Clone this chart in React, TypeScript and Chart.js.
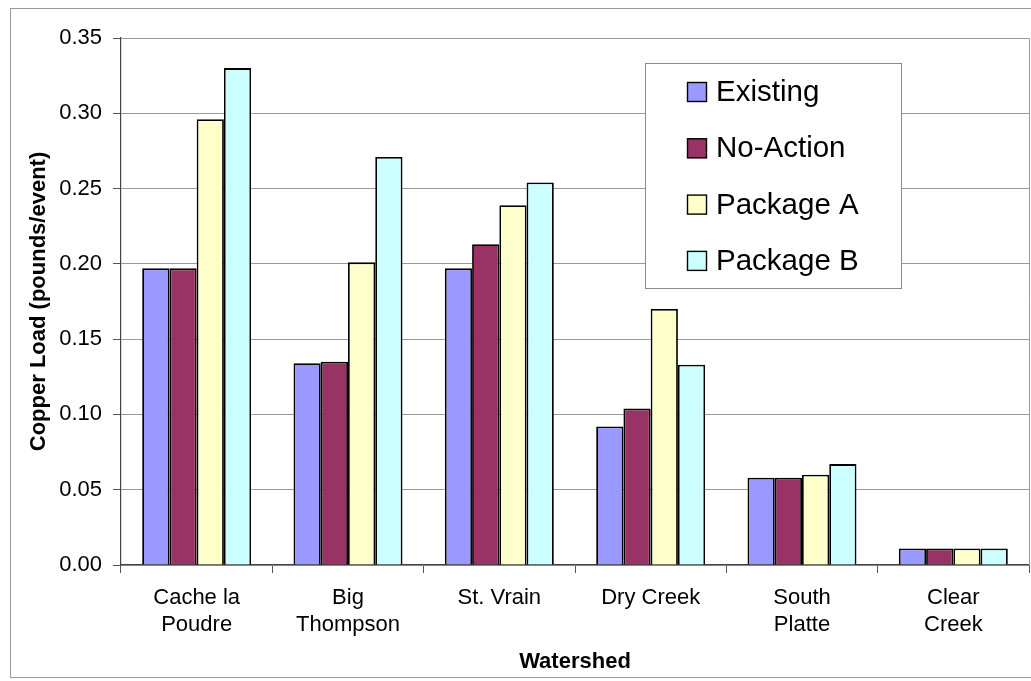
import React, { useEffect, useRef } from "react";
import { Chart, registerables } from "chart.js";

Chart.register(...registerables);

const categories: (string | string[])[] = [
  ["Cache la", "Poudre"],
  ["Big", "Thompson"],
  "St. Vrain",
  "Dry Creek",
  ["South", "Platte"],
  ["Clear", "Creek"],
];
const seriesNames = ["Existing", "No-Action", "Package A", "Package B"];
const existing = [0.197, 0.134, 0.197, 0.092, 0.058, 0.011];
const noAction = [0.197, 0.135, 0.213, 0.104, 0.058, 0.011];
const packageA = [0.296, 0.201, 0.239, 0.17, 0.06, 0.011];
const packageB = [0.33, 0.271, 0.254, 0.133, 0.067, 0.011];
const seriesColors = ["#9999FF", "#993366", "#FFFFCC", "#CCFFFF"];
const yMin = 0;
const yMax = 0.35;
const yStep = 0.05;
const yTitle = "Copper Load (pounds/event)";
const xTitle = "Watershed";

const FONT = '"Liberation Sans", Arial, sans-serif';

const bgPlugin = {
  id: "bgBorder",
  beforeDraw(chart: any) {
    const ctx = chart.ctx;
    ctx.save();
    ctx.fillStyle = "#ffffff";
    ctx.fillRect(0, 0, chart.width, chart.height);
    ctx.strokeStyle = "#9a9a9a";
    ctx.lineWidth = 1;
    ctx.strokeRect(10.5, 8.5, chart.width + 10, 669);
    ctx.restore();
  },
  beforeDatasetsDraw(chart: any) {
    const { ctx, chartArea } = chart;
    ctx.save();
    ctx.strokeStyle = "#9a9a9a";
    ctx.lineWidth = 1;
    ctx.beginPath();
    ctx.moveTo(chartArea.left, Math.round(chartArea.top) + 0.5);
    ctx.lineTo(chartArea.right + 0.5, Math.round(chartArea.top) + 0.5);
    ctx.lineTo(chartArea.right + 0.5, chartArea.bottom);
    ctx.stroke();
    ctx.restore();
  },
};

const legendPlugin = {
  id: "boxLegend",
  afterDraw(chart: any) {
    const ctx = chart.ctx;
    ctx.save();
    ctx.fillStyle = "#ffffff";
    ctx.fillRect(645.5, 63.5, 256, 225);
    ctx.strokeStyle = "#8a8a8a";
    ctx.lineWidth = 1;
    ctx.strokeRect(645.5, 63.5, 256, 225);
    ctx.font = `29.5px ${FONT}`;
    ctx.textBaseline = "middle";
    ctx.textAlign = "left";
    chart.data.datasets.forEach((ds: any, i: number) => {
      const cy = 92 + i * 56.3;
      ctx.fillStyle = ds.backgroundColor;
      ctx.fillRect(687, cy - 10, 20, 20);
      ctx.strokeStyle = "#000";
      ctx.lineWidth = 1.4;
      ctx.strokeRect(687.5, cy - 9.5, 19, 19);
      ctx.fillStyle = "#000";
      ctx.fillText(ds.label, 716, cy + 1);
    });
    ctx.restore();
  },
};

export default function App() {
  const ref = useRef<HTMLCanvasElement>(null);
  useEffect(() => {
    if (!ref.current) return;
    const seriesData = [existing, noAction, packageA, packageB];
    const chart = new Chart(ref.current, {
      type: "bar",
      data: {
        labels: categories,
        datasets: seriesNames.map((name, i) => ({
          label: name,
          data: seriesData[i],
          backgroundColor: seriesColors[i],
          borderColor: "#000000",
          borderWidth: 1.8,
          categoryPercentage: 0.72,
          barPercentage: 1.0,
        })),
      },
      options: {
        responsive: false,
        animation: false,
        layout: { padding: { top: 38, right: 2, left: 0, bottom: 0 } },
        plugins: {
          legend: { display: false },
          tooltip: { enabled: false },
          title: { display: false },
        },
        scales: {
          x: {
            grid: {
              display: true,
              drawOnChartArea: false,
              drawTicks: true,
              tickLength: 8,
              color: "#555555",
              offset: true,
            },
            border: { display: true, color: "#444444", width: 1.2 },
            ticks: {
              color: "#000",
              font: { family: FONT, size: 22 },
              padding: 12,
              maxRotation: 0,
              autoSkip: false,
            },
            title: {
              display: true,
              text: xTitle,
              color: "#000",
              font: { family: FONT, size: 22, weight: "bold" },
              padding: { top: 0, bottom: 6 },
            },
            afterFit(scale: any) {
              scale.height = 116;
            },
          },
          y: {
            min: yMin,
            max: yMax,
            ticks: {
              stepSize: yStep,
              color: "#000",
              font: { family: FONT, size: 22 },
              padding: 11,
              callback: (v: any) => Number(v).toFixed(2),
            },
            grid: {
              color: "#9a9a9a",
              tickLength: 8,
              drawTicks: true,
              tickColor: "#555555",
            },
            border: { display: true, color: "#444444", width: 1.2 },
            title: {
              display: true,
              text: yTitle,
              color: "#000",
              font: { family: FONT, size: 22, weight: "bold" },
              padding: { top: 26, bottom: 0 },
            },
            afterFit(scale: any) {
              scale.width = 121;
            },
          },
        },
      },
      plugins: [bgPlugin, legendPlugin],
    });
    return () => chart.destroy();
  }, []);
  return (
    <div style={{ position: "absolute", left: 0, top: 0, width: 1031, height: 681, background: "#fff" }}>
      <canvas ref={ref} width={1031} height={681} style={{ display: "block" }} />
    </div>
  );
}
